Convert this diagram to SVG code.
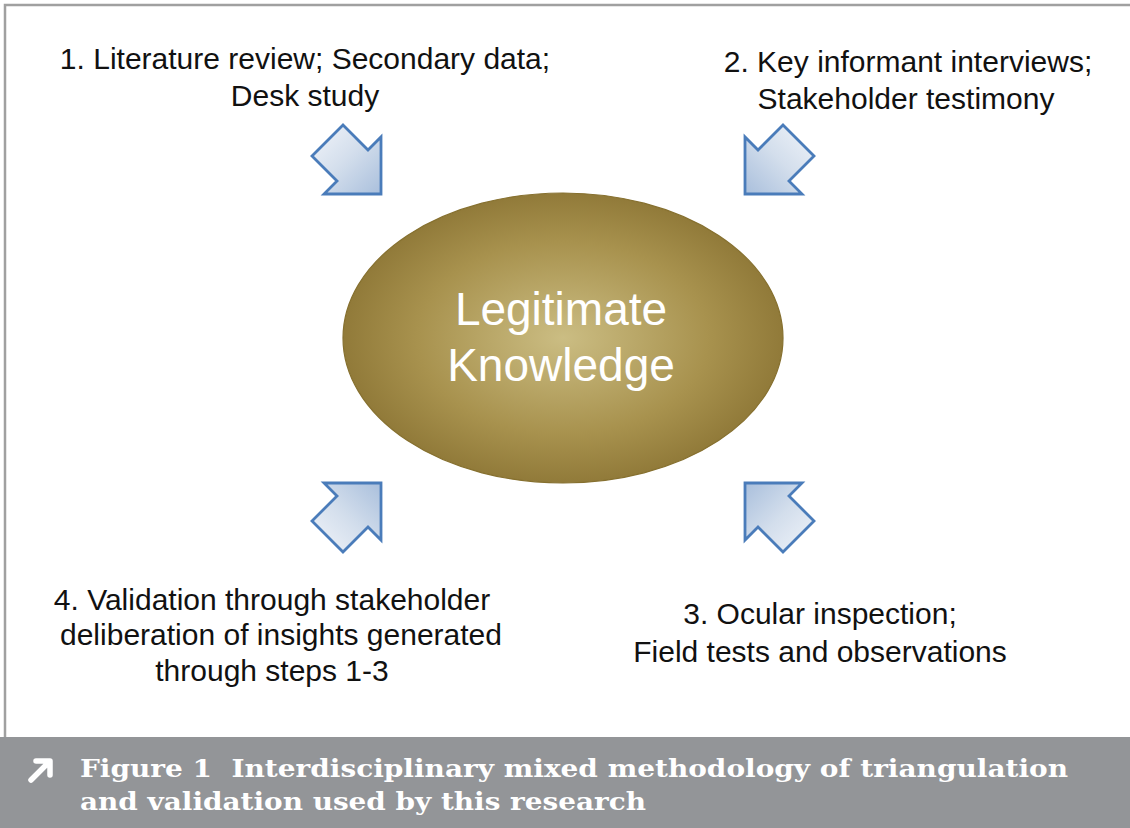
<svg xmlns="http://www.w3.org/2000/svg" xmlns:xlink="http://www.w3.org/1999/xlink" width="1130" height="828" viewBox="0 0 1130 828">
  <style>
    .label { font-family: "Liberation Sans", Arial, sans-serif; font-size: 30px; fill: #111; text-anchor: middle; }
    .core { font-family: "Liberation Sans", Arial, sans-serif; font-size: 46px; fill: #ffffff; text-anchor: middle; }
    .caption { font-family: "DejaVu Serif", serif; font-weight: bold; font-size: 25px; fill: #ffffff; }
    .block-arrow { fill: url(#arrowFill); stroke: #4a7cba; stroke-width: 2.8; stroke-linejoin: miter; }
  </style>
  <defs>
    <radialGradient id="coreFill" cx="50%" cy="50%" r="55%">
      <stop offset="0" stop-color="#cbbd83"/>
      <stop offset="0.6" stop-color="#a8924e"/>
      <stop offset="1" stop-color="#8a7333"/>
    </radialGradient>
    <linearGradient id="arrowFill" x1="0" y1="0" x2="1" y2="1">
      <stop offset="0" stop-color="#f2f5fa"/>
      <stop offset="0.5" stop-color="#d3deec"/>
      <stop offset="1" stop-color="#a9bfdc"/>
    </linearGradient>
    <!-- diagonal block arrow pointing down-right, tip at (381,194) -->
    <polygon id="blockArrow" class="block-arrow"
      points="381,194 381,137 368,150 343,125 312,156 337,181 324,194"/>
  </defs>

  <!-- page frame -->
  <rect x="0" y="0" width="1130" height="828" fill="#ffffff"/>
  <path d="M5,737 V5 H1130" fill="none" stroke="#a0a0a0" stroke-width="2.5"/>

  <!-- inward arrows -->
  <g id="connectors">
    <use xlink:href="#blockArrow"/>
    <use xlink:href="#blockArrow" transform="translate(1126,0) scale(-1,1)"/>
    <use xlink:href="#blockArrow" transform="translate(0,677) scale(1,-1)"/>
    <use xlink:href="#blockArrow" transform="translate(1126,677) scale(-1,-1)"/>
  </g>

  <g id="node-core">
    <ellipse cx="563" cy="338" rx="220" ry="145" fill="url(#coreFill)" stroke="#86702f" stroke-width="1.2"/>
    <text class="core" x="561" y="325">Legitimate</text>
    <text class="core" x="561" y="381">Knowledge</text>
  </g>

  <g id="node-step1">
    <text class="label" x="305" y="69">1. Literature review; Secondary data;</text>
    <text class="label" x="305" y="106">Desk study</text>
  </g>

  <g id="node-step2">
    <text class="label" x="908" y="72">2. Key informant interviews;</text>
    <text class="label" x="906" y="109">Stakeholder testimony</text>
  </g>

  <g id="node-step3">
    <text class="label" x="820" y="624">3. Ocular inspection;</text>
    <text class="label" x="820" y="662">Field tests and observations</text>
  </g>

  <g id="node-step4">
    <text class="label" x="272" y="610">4. Validation through stakeholder</text>
    <text class="label" x="281" y="645">deliberation of insights generated</text>
    <text class="label" x="272" y="681">through steps 1-3</text>
  </g>

  <!-- caption bar -->
  <g id="caption">
    <rect x="0" y="737" width="1130" height="91" fill="#939598"/>
    <path d="M31,780 L48,763 M36,761 H50 V775" fill="none" stroke="#ffffff" stroke-width="5.5" stroke-linecap="round" stroke-linejoin="round"/>
    <text class="caption" x="80" y="777" textLength="988" lengthAdjust="spacingAndGlyphs" xml:space="preserve">Figure 1  Interdisciplinary mixed methodology of triangulation</text>
    <text class="caption" x="80" y="810" textLength="566" lengthAdjust="spacingAndGlyphs">and validation used by this research</text>
  </g>
</svg>
